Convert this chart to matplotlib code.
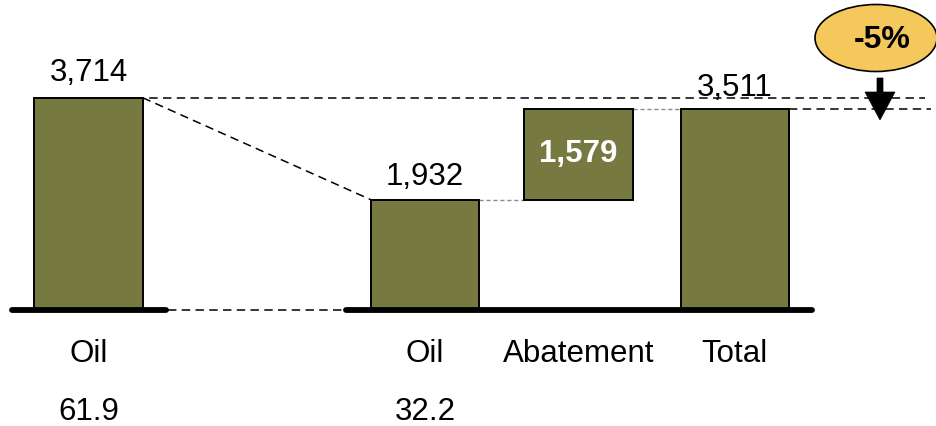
import matplotlib
matplotlib.use("Agg")
import matplotlib.pyplot as plt
from matplotlib.patches import Ellipse, Polygon

# Waterfall data
categories = ["Oil", "Oil", "Abatement", "Total"]
sub_values = ["61.9", "32.2", "", ""]
start_value = 3714
oil_value = 1932
abatement = 1579
total_value = 3511
change_label = "-5%"

W, H = 937, 426
fig = plt.figure(figsize=(W / 100, H / 100), dpi=100)
ax = fig.add_axes([0, 0, 1, 1])

# axis scales: 1 slot = 155 px, 1 px = 17.5 units
px_x = 1 / 155
px_y = 17.5
x0_px, base_px = 88.5, 310
ax.set_xlim(-x0_px * px_x, (W - x0_px) * px_x)
ax.set_ylim(-(H - base_px) * px_y, base_px * px_y)
ax.axis("off")

positions = [0, 2.17, 3.16, 4.17]
width = 0.70
bar_color = "#767A41"
font = "Liberation Sans"
fs = 22.5

bottoms = [0, 0, oil_value, 0]
heights = [start_value, oil_value, total_value - oil_value, total_value]
ax.bar(positions, heights, width=width, bottom=bottoms, color=bar_color,
       edgecolor="black", linewidth=1.4, zorder=3)

# value labels
ax.text(positions[0], start_value + 10 * px_y, f"{start_value:,}", ha="center", va="bottom",
        fontsize=fs, family=font, zorder=5)
ax.text(positions[1], oil_value + 8 * px_y, f"{oil_value:,}", ha="center", va="bottom",
        fontsize=fs, family=font, zorder=5)
ax.text(positions[2], (oil_value + total_value) / 2, f"{abatement:,}", ha="center", va="center",
        fontsize=fs, family=font, color="white", fontweight="bold", zorder=5)
ax.text(positions[3], total_value + 6 * px_y, f"{total_value:,}", ha="center", va="bottom",
        fontsize=fs, family=font, zorder=2)

# category labels
for p, c, s in zip(positions, categories, sub_values):
    ax.text(p, -44 * px_y, c, ha="center", va="center", fontsize=fs, family=font)
    if s:
        ax.text(p, -102 * px_y, s, ha="center", va="center", fontsize=fs, family=font)

# thick baselines
base_kw = dict(color="black", linewidth=4.2, solid_capstyle="round", zorder=4)
ax.plot([positions[0] - 76.5 * px_x, positions[0] + 77.5 * px_x], [0, 0], **base_kw)
ax.plot([positions[1] - 79 * px_x, positions[3] + 77 * px_x], [0, 0], **base_kw)

dash_kw = dict(color="black", linewidth=1.1, dashes=(5.5, 3.5), zorder=2)
# connector from first baseline to second
ax.plot([positions[0] + 80 * px_x, positions[1] - 81 * px_x], [0, 0], **dash_kw)
# sloped connector from first bar top to second bar top
ax.plot([positions[0] + width / 2, positions[1] - width / 2], [start_value, oil_value], **dash_kw)
# reference levels on the right
ax.plot([positions[0] + 20 * px_x, (925 - x0_px) * px_x], [start_value, start_value], **dash_kw)
ax.plot([positions[3] + width / 2, (931 - x0_px) * px_x], [total_value, total_value], **dash_kw)

# thin grey connectors between steps
grey_kw = dict(color="#8C8C8C", linewidth=1.0, dashes=(3, 2), zorder=2)
ax.plot([positions[1] + width / 2, positions[2] - width / 2], [oil_value, oil_value], **grey_kw)
ax.plot([positions[2] + width / 2, positions[3] - width / 2], [total_value, total_value], **grey_kw)

# change callout
def fpx(x, y):
    return (x / W, 1 - y / H)

ell = Ellipse(fpx(876, 38), 122 / W, 67 / H, transform=fig.transFigure,
              facecolor="#F5C85C", edgecolor="black", linewidth=1.2, zorder=6)
fig.patches.append(ell)
fig.text(*fpx(882, 40), change_label, ha="center", va="center", fontsize=23,
         family=font, fontweight="bold", zorder=7)

arrow = Polygon([fpx(877, 78), fpx(883, 78), fpx(883, 92), fpx(895, 92),
                 fpx(880, 120), fpx(865, 92), fpx(877, 92)],
                closed=True, transform=fig.transFigure, facecolor="black",
                edgecolor="black", linewidth=0.5, zorder=7)
fig.patches.append(arrow)

fig.savefig("out.png", dpi=100)
